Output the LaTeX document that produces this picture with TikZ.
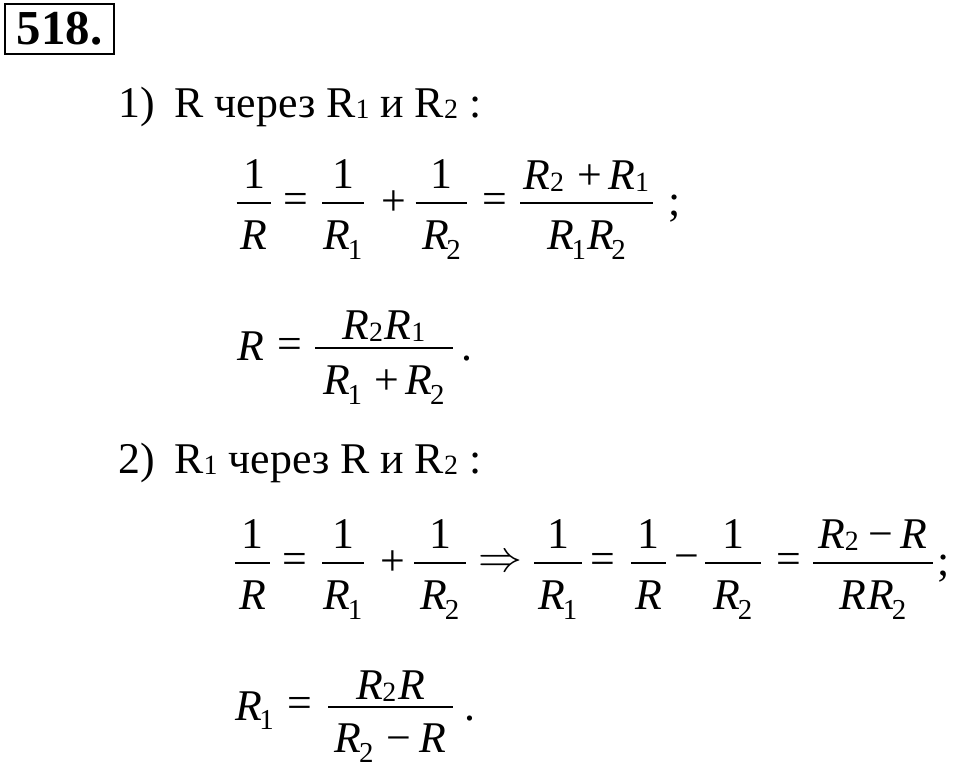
\documentclass[tikz,border=0pt]{standalone}
\usepackage{fontspec}
\setmainfont{Liberation Serif}
% italic R with a lowered subscript (denominators / main line)
\newcommand\Rs[1]{\textit{R}\kern-2.5pt\raisebox{-10pt}{\fontsize{29}{29}\selectfont #1}}
% italic R with a slightly lowered subscript (numerators)
\newcommand\Rn[1]{\textit{R}\kern-0.5pt\raisebox{-2pt}{\fontsize{28}{28}\selectfont #1}}
\newcommand\Rv{\textit{R}}
% fraction: #1 bar width, #2 numerator raise, #3 denominator drop, #4 numerator, #5 denominator
\newcommand\fr[5]{\rlap{\hbox to #1pt{\hss\raisebox{#2pt}{#4}\hss}}\rlap{\hbox to #1pt{\hss\raisebox{-#3pt}{#5}\hss}}\rule[-1.1pt]{#1pt}{2.2pt}}
\newcommand\tsub[1]{\raisebox{-2pt}{\fontsize{28}{28}\selectfont #1}}
\tikzset{
  base/.style={inner sep=0pt, font=\fontsize{44}{50}\selectfont},
  textline/.style={base, anchor=base west},
  fracnode/.style={base, anchor=base},
  opnode/.style={base, anchor=center},
  arrownode/.style={inner sep=0pt, anchor=center, scale=1.77, transform shape, font=\fontsize{24.88}{30}\selectfont},
  punct/.style={base, anchor=base west},
  numbox/.style={draw, line width=3pt, minimum width=109bp, minimum height=50bp, inner sep=0pt, font=\bfseries\fontsize{49}{49}\selectfont}
}
\begin{document}
\begin{tikzpicture}[x=1bp,y=-1bp]
\useasboundingbox (0,0) rectangle (960,768);
\node[numbox] (num) at (59.5,29) {\raisebox{-1pt}{518.}};
% line 1 text
\node[textline] (t1) at (118,117) {1)\hspace{0.45em}R через R\tsub{1} и R\tsub{2} :};
% line 1 formula (bar y 203)
\node[fracnode] (a1) at (254,203) {\fr{35}{15}{47}{1}{\Rv}};
\node[opnode] (a2) at (296,203) {=};
\node[fracnode] (a3) at (343,203) {\fr{42}{15}{47}{1}{\Rs{1}}};
\node[opnode] (a4) at (393.5,203) {+};
\node[fracnode] (a5) at (441.5,203) {\fr{52}{15}{47}{1}{\Rs{2}}};
\node[opnode] (a6) at (495,203) {=};
\node[fracnode] (a7) at (586.5,203) {\fr{133}{14}{47}{\Rn{2}\kern13pt+\kern7pt\Rn{1}}{\Rs{1}\kern1pt\Rs{2}}};
\node[punct] (a8) at (668,215) {;};
% line 2 formula (bar y 348)
\node[punct] (b1) at (237,360) {\Rv};
\node[opnode] (b2) at (289.5,348) {=};
\node[fracnode] (b3) at (384,348) {\fr{138}{9}{47}{\Rn{2}\kern2pt\Rn{1}}{\Rs{1}\kern12pt+\kern7pt\Rs{2}}};
\node[punct] (b4) at (461,360) {.};
% line 2 text
\node[textline] (t2) at (118,473) {2)\hspace{0.45em}R\tsub{1} через R и R\tsub{2} :};
% line 3 formula (bar y 563)
\node[fracnode] (c1) at (252.5,563) {\fr{35}{15}{47}{1}{\Rv}};
\node[opnode] (c2) at (295,563) {=};
\node[fracnode] (c3) at (343,563) {\fr{42}{15}{47}{1}{\Rs{1}}};
\node[opnode] (c4) at (392.5,563) {+};
\node[fracnode] (c5) at (440,563) {\fr{52}{15}{47}{1}{\Rs{2}}};
\node[arrownode] (c6) at (500,563) {$\Rightarrow$};
\node[fracnode] (c7) at (558,563) {\fr{48}{15}{47}{1}{\Rs{1}}};
\node[opnode] (c8) at (603,563) {=};
\node[fracnode] (c9) at (648.5,563) {\fr{35}{15}{47}{1}{\Rv}};
\node[opnode] (c10) at (687,563) {−};
\node[fracnode] (c11) at (733,563) {\fr{56}{15}{47}{1}{\Rs{2}}};
\node[opnode] (c12) at (788.5,563) {=};
\node[fracnode] (c13) at (873,563) {\fr{120}{15}{47}{\Rn{2}\kern10pt−\kern7pt\Rv}{\Rv\kern1pt\Rs{2}}};
\node[punct] (c14) at (937,575) {;};
% line 4 formula (bar y 707)
\node[punct] (d1) at (235,720) {\Rs{1}};
\node[opnode] (d2) at (300,707) {=};
\node[fracnode] (d3) at (390.5,707) {\fr{125}{8}{46}{\Rn{2}\kern2pt\Rv}{\Rs{2}\kern13pt−\kern8pt\Rv}};
\node[punct] (d4) at (464,720) {.};
\end{tikzpicture}
\end{document}
